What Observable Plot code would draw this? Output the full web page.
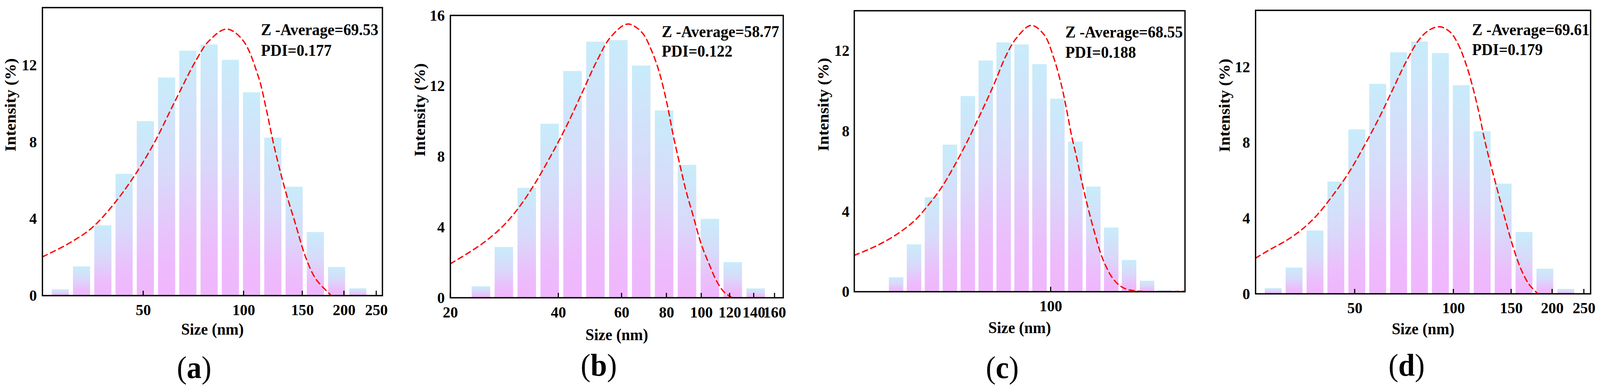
<!DOCTYPE html>
<html lang="en">
<head>
<meta charset="UTF-8">
<title>DLS size distributions</title>
<style>
  html, body { margin: 0; background: #fff; overflow: hidden; }
  #fig { position: relative; width: 4318px; height: 991px; overflow: hidden; background: #fff;
         transform-origin: 0 0;
         font-family: "Liberation Serif", "Times New Roman", serif; }
  .panel { position: absolute; }
  .tag { position: absolute; font-size: 80px; line-height: 1; transform: translate(-50%, -50%); white-space: nowrap; }
  .tag b { font-weight: bold; }
</style>
</head>
<body>
<div id="fig"></div>
<script src="https://cdn.jsdelivr.net/npm/d3@7"></script>
<script src="https://cdn.jsdelivr.net/npm/@observablehq/plot@0.6"></script>
<script>
// bar centres (nm) and intensities (%)
const sizesA = [28.21, 32.67, 37.84, 43.82, 50.75, 58.77, 68.06, 78.82, 91.28, 105.7, 122.4, 141.8, 164.2, 190.1, 220.2];
const intensA = [0.32, 1.51, 3.65, 6.33, 9.08, 11.35, 12.75, 13.07, 12.27, 10.58, 8.22, 5.66, 3.30, 1.48, 0.37];

const sizesB = [24.36, 28.21, 32.67, 37.84, 43.82, 50.75, 58.77, 68.06, 78.82, 91.28, 105.7, 122.4, 141.8];
const intensB = [0.64, 2.87, 6.22, 9.85, 12.84, 14.50, 14.59, 13.15, 10.60, 7.52, 4.46, 2.01, 0.52];

const sizesC = [28.21, 32.67, 37.84, 43.82, 50.75, 58.77, 68.06, 78.82, 91.28, 105.7, 122.4, 141.8, 164.2, 190.1, 220.2, 255.0];
const intensC = [0.71, 2.35, 4.70, 7.32, 9.74, 11.51, 12.41, 12.31, 11.33, 9.61, 7.47, 5.23, 3.19, 1.57, 0.54, 0.07];

const sizesD = [28.21, 32.67, 37.84, 43.82, 50.75, 58.77, 68.06, 78.82, 91.28, 105.7, 122.4, 141.8, 164.2, 190.1, 220.2];
const intensD = [0.29, 1.38, 3.34, 5.93, 8.69, 11.10, 12.77, 13.34, 12.73, 11.03, 8.59, 5.82, 3.26, 1.32, 0.25];

// dashed fit curves
const fitAx = [24.92, 29.89, 34.83, 40.25, 46.5, 53.75, 62.1, 71.75, 78.5, 88.8, 99.3, 110.7, 116.8, 123.3, 132.6, 142.5, 153.2, 164.6, 181.8];
const fitAy = [2.02, 2.72, 3.49, 4.65, 6.12, 7.92, 10.10, 12.22, 13.25, 13.88, 13.31, 11.39, 9.72, 7.79, 5.61, 3.81, 2.02, 0.86, 0.06];

const fitBx = [20.0, 22.39, 25.16, 28.26, 31.22, 34.49, 38.11, 42.1, 46.53, 51.41, 55.87, 62.25, 68.2, 72.9, 76.6, 80.5, 83.25, 87.5, 90.5, 95.1, 99.95, 105.1, 110.4, 116.1, 122.0];
const fitBy = [1.93, 2.53, 3.23, 4.14, 5.19, 6.52, 8.06, 9.73, 11.62, 13.51, 14.77, 15.51, 15.05, 13.93, 12.67, 10.85, 9.31, 7.36, 6.10, 4.56, 3.02, 1.90, 0.92, 0.29, 0.0];

const fitCx = [20.0, 24.41, 28.96, 32.92, 36.63, 40.76, 45.36, 50.5, 56.2, 62.5, 69.55, 75.75, 85.2, 94.8, 102.2, 108.9, 113.7, 118.6, 123.8, 129.2, 134.9, 143.8, 153.3, 167.0, 181.9, 206.8, 297];
const fitCy = [1.81, 2.34, 2.95, 3.57, 4.31, 5.17, 6.27, 7.50, 8.86, 10.27, 11.81, 12.67, 13.27, 12.79, 11.69, 10.33, 9.10, 7.75, 6.64, 5.41, 4.31, 2.83, 1.60, 0.62, 0.18, 0.02, 0.02];

const fitDx = [24.91, 27.6, 30.82, 34.39, 38.4, 42.87, 47.85, 53.41, 59.63, 65.35, 71.6, 78.5, 84.5, 90.9, 97.8, 103.4, 109.2, 114.3, 119.7, 124.1, 128.8, 133.6, 138.6, 143.8, 151.9, 160.5, 169.6, 180.8];
const fitDy = [1.89, 2.35, 2.81, 3.39, 4.18, 5.22, 6.40, 7.83, 9.40, 10.84, 12.27, 13.45, 13.97, 14.13, 13.84, 13.19, 12.14, 10.97, 9.53, 8.22, 7.05, 6.01, 4.96, 3.92, 2.48, 1.31, 0.52, 0.0];

// axes
const xTicksAD = [50, 100, 150, 200, 250];
const xTicksB = [20, 40, 60, 80, 100, 120, 140, 160];
const xTicksC = [100];
const yTicks12 = [0, 4, 8, 12];
const yTicks16 = [0, 4, 8, 12, 16];

const zAvg = ["69.53", "58.77", "68.55", "69.61"];
const pdi = ["0.177", "0.122", "0.188", "0.179"];
const tags = ["a", "b", "c", "d"];

const font = "Liberation Serif, Times New Roman, serif";

const panels = [
  {sizes: sizesA, intens: intensA, fx: fitAx, fy: fitAy, xDomain: [24.9, 260.6], yMax: 15, xTicks: xTicksAD, yTicks: yTicks12,
   L: 113.6, R: 1031.2, T: 19, B: 756.5, yPad: 15, yLab: -86, xLab: 87, annDx: -328, zDy: 57, pDy: 110, tagX: 524, tagY: 941},
  {sizes: sizesB, intens: intensB, fx: fitBx, fy: fitBy, xDomain: [20, 169], yMax: 16, xTicks: xTicksB, yTicks: yTicks16,
   L: 1215, R: 2113.3, T: 39, B: 762, yPad: 15, yLab: -82, xLab: 95, annDx: -328, zDy: 42, pDy: 92, tagX: 1616, tagY: 935},
  {sizes: sizesC, intens: intensC, fx: fitCx, fy: fitCy, xDomain: [20, 300], yMax: 14, xTicks: xTicksC, yTicks: yTicks12,
   L: 2304.5, R: 3197, T: 26.5, B: 746, yPad: 13, yLab: -83, xLab: 93, annDx: -323, zDy: 55, pDy: 107, tagX: 2705, tagY: 941},
  {sizes: sizesD, intens: intensD, fx: fitDx, fy: fitDy, xDomain: [24.9, 261.8], yMax: 15, xTicks: xTicksAD, yTicks: yTicks12,
   L: 3387.8, R: 4292, T: 25.7, B: 751.6, yPad: 15, yLab: -83, xLab: 90, annDx: -320, zDy: 50, pDy: 101, tagX: 3796, tagY: 935}
];

const half = 1.061; // bar half-width as a ratio on the log axis
const fig = document.getElementById("fig");

// keep the 4318x991 layout whatever the real viewport is
function fit() {
  const sx = window.innerWidth / 4318, sy = window.innerHeight / 991;
  fig.style.transform = `scale(${sx}, ${sy})`;
}
fit();
window.addEventListener("resize", fit);

panels.forEach((p, k) => {
  const ml = 140, mr = 16, mt = 12, mb = 130;
  const bars = p.sizes.map((s, i) => ({size: s, value: p.intens[i]}));
  const curve = p.fx.map((x, i) => ({x, y: p.fy[i]}));
  const gid = "grad" + k;

  const gradient = () => {
    const defs = d3.create("svg:defs");
    const g = defs.append("linearGradient").attr("id", gid)
      .attr("x1", 0).attr("y1", 0).attr("x2", 0).attr("y2", 1);
    [[0, "#c8ecfa"], [0.45, "#d9d9fa"], [0.8, "#ecbdfc"], [1, "#f0b6fd"]].forEach(([o, c]) =>
      g.append("stop").attr("offset", o).attr("stop-color", c));
    return defs.node();
  };

  // Origin-style ticks pointing up into the frame
  const innerTicks = (index, scales, values, dims) => {
    const g = d3.create("svg:g").attr("stroke", "black").attr("stroke-width", 3);
    const yb = dims.height - dims.marginBottom;
    p.xTicks.forEach(t => {
      const x = scales.x(t);
      g.append("line").attr("x1", x).attr("x2", x).attr("y1", yb).attr("y2", yb - 12);
    });
    return g.node();
  };

  const chart = Plot.plot({
    width: (p.R - p.L) + ml + mr,
    height: (p.B - p.T) + mt + mb,
    marginLeft: ml, marginRight: mr, marginTop: mt, marginBottom: mb,
    style: {fontFamily: font, fontSize: "41px", fontWeight: "bold", color: "black", background: "transparent", overflow: "visible"},
    x: {type: "log", domain: p.xDomain},
    y: {domain: [0, p.yMax]},
    marks: [
      gradient,
      Plot.rectY(bars, {x1: d => d.size / half, x2: d => d.size * half, y: "value", fill: `url(#${gid})`}),
      Plot.line(curve, {x: "x", y: "y", stroke: "#ff0000", strokeWidth: 3.5, strokeDasharray: "14,10", curve: "catmull-rom", clip: true}),
      Plot.frame({stroke: "black", strokeWidth: 3.5}),
      innerTicks,
      Plot.axisX(p.xTicks, {tickSize: 0, tickPadding: 21, tickFormat: d => String(d), label: null}),
      Plot.axisY(p.yTicks, {tickSize: 0, tickPadding: p.yPad, tickFormat: d => String(d), label: null}),
      Plot.text(["Intensity (%)"], {frameAnchor: "left", dx: p.yLab, rotate: -90, fontSize: 42, fontWeight: "bold", fill: "black", lineAnchor: "middle"}),
      Plot.text(["Size (nm)"], {frameAnchor: "bottom", dy: p.xLab, fontSize: 42, fontWeight: "bold", fill: "black", lineAnchor: "middle"}),
      Plot.text([`Z -Average=${zAvg[k]}`], {frameAnchor: "top-right", dx: p.annDx, dy: p.zDy, textAnchor: "start", lineAnchor: "middle", fontSize: 42, fontWeight: "bold", fill: "black"}),
      Plot.text([`PDI=${pdi[k]}`], {frameAnchor: "top-right", dx: p.annDx, dy: p.pDy, textAnchor: "start", lineAnchor: "middle", fontSize: 42, fontWeight: "bold", fill: "black"})
    ]
  });

  const wrap = document.createElement("div");
  wrap.className = "panel";
  wrap.style.left = (p.L - ml) + "px";
  wrap.style.top = (p.T - mt) + "px";
  wrap.append(chart);
  fig.append(wrap);

  const tag = document.createElement("div");
  tag.className = "tag";
  tag.style.left = p.tagX + "px";
  tag.style.top = p.tagY + "px";
  tag.innerHTML = `(<b>${tags[k]}</b>)`;
  fig.append(tag);
});
</script>
</body>
</html>
